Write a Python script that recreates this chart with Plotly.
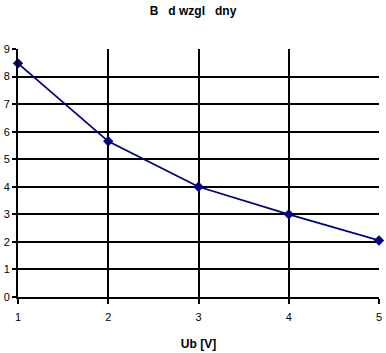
import plotly.graph_objects as go

x_vals = [1, 2, 3, 4, 5]
y_vals = [8.48, 5.65, 4.0, 3.0, 2.05]
x_ticks = [1, 2, 3, 4, 5]
y_ticks = [0, 1, 2, 3, 4, 5, 6, 7, 8, 9]
title_text = "B   d wzgl   dny"
x_title = "Ub [V]"

fig = go.Figure(go.Scatter(
    x=x_vals, y=y_vals, mode="lines+markers",
    line=dict(color="#000080", width=1.8),
    marker=dict(symbol="diamond", size=8, color="#000080"),
    cliponaxis=False,
))

fig.update_layout(
    width=386, height=353,
    margin=dict(l=16, r=4, t=49, b=55),
    paper_bgcolor="white", plot_bgcolor="white",
    showlegend=False,
    font=dict(family="Liberation Sans, Arial", size=11, color="black"),
    title=dict(text="<b>" + title_text + "</b>", x=0.5, xanchor="center",
               y=1 - 11 / 353, yanchor="middle",
               font=dict(size=12, color="black")),
)
fig.update_xaxes(
    range=[1, 5], tickvals=x_ticks, showgrid=True, gridcolor="black", gridwidth=2,
    showline=True, linecolor="black", linewidth=2, zeroline=False,
    ticks="outside", ticklen=5, tickcolor="black", tickwidth=2,
    ticklabelstandoff=4,
    title=dict(text="<b>" + x_title + "</b>", font=dict(size=12), standoff=17),
)
fig.update_yaxes(
    range=[0, 9], tickvals=y_ticks, showgrid=True, gridcolor="black", gridwidth=2,
    showline=True, linecolor="black", linewidth=2, zeroline=False,
    ticks="outside", ticklen=4, tickcolor="black", tickwidth=2,
)

fig.write_html("out.html")
